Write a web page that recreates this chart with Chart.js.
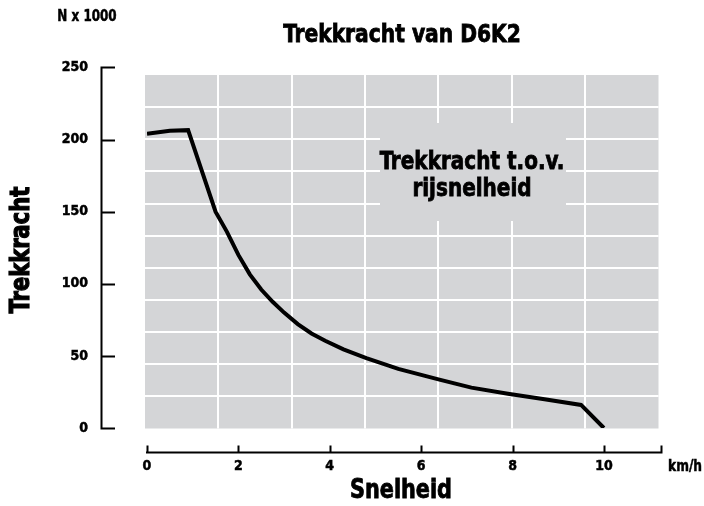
<!DOCTYPE html>
<html>
<head>
<meta charset="utf-8">
<title>Trekkracht van D6K2</title>
<script src="https://cdn.jsdelivr.net/npm/chart.js@4.4.1/dist/chart.umd.min.js"></script>
<style>
  html, body { margin: 0; padding: 0; background: #fff; }
  canvas { display: block; }
</style>
</head>
<body>
<canvas id="chart" width="704" height="506"></canvas>
<script>
// snelheid (km/h) en trekkracht (N x 1000)
const speeds = [0, 0.5, 0.9, 1.5, 1.75, 2.0, 2.25, 2.5, 2.75, 3.0, 3.3, 3.6, 3.9, 4.3, 4.8, 5.5, 6.4, 7.1, 7.9, 8.7, 9.5, 10];
const forces = [204, 206, 206.5, 150, 136, 120, 106.5, 96, 87.5, 80, 72, 65.5, 60.5, 54.5, 48.5, 41, 33.5, 28, 23.8, 20, 16, 0];
const speedTicks = [0, 2, 4, 6, 8, 10];
const forceTicks = [0, 50, 100, 150, 200, 250];

const FONT = '"Liberation Sans Narrow", "Arial Narrow", "DejaVu Sans Condensed", sans-serif';
const GRAY = '#d4d5d7';

function bold(size) {
    return 'bold ' + size + 'px ' + FONT;
}

// tekst smaller maken, de letter in het origineel is condensed en zwaar
function squeeze(ctx, text, x, y, sx, angle) {
    ctx.save();
    ctx.translate(x, y);
    if (angle) ctx.rotate(angle);
    ctx.scale(sx, 1);
    ctx.fillText(text, 0, 0);
    ctx.strokeText(text, 0, 0);
    ctx.restore();
}

// grijs vlak, witte rasterlijnen, assen en losse teksten
const decor = {
    id: 'decor',
    beforeDatasetsDraw(chart) {
        const ctx = chart.ctx;
        const left = 145, right = 658.5, top = 75, bottom = 428.5;
        ctx.save();
        ctx.fillStyle = GRAY;
        ctx.fillRect(left, top, right - left, bottom - top);

        ctx.strokeStyle = '#fff';
        ctx.lineWidth = 2;
        ctx.beginPath();
        const rowH = (bottom - top) / 11;
        for (let i = 1; i < 11; i++) {
            const yy = Math.round(top + i * rowH);
            ctx.moveTo(left, yy);
            ctx.lineTo(right, yy);
        }
        const colW = (right - left) / 7;
        for (let i = 1; i < 7; i++) {
            const xx = Math.round(left + i * colW);
            ctx.moveTo(xx, top);
            ctx.lineTo(xx, bottom);
        }
        ctx.stroke();

        // vlak achter de tekst zonder raster
        ctx.fillStyle = GRAY;
        ctx.fillRect(380, 123, 186, 98);
        ctx.restore();
    },
    afterDraw(chart) {
        const ctx = chart.ctx;
        const xs = chart.scales.x, ys = chart.scales.y;
        const area = chart.chartArea;
        ctx.save();
        ctx.strokeStyle = '#000';
        ctx.lineWidth = 2;

        // y-as
        const ax = 101.5;
        ctx.beginPath();
        ctx.moveTo(ax, ys.getPixelForValue(250));
        ctx.lineTo(ax, ys.getPixelForValue(0) + 1);
        forceTicks.forEach(v => {
            const py = Math.round(ys.getPixelForValue(v)) + 0.5;
            ctx.moveTo(ax - 1, py);
            ctx.lineTo(115, py);
        });
        ctx.stroke();

        // x-as
        const ay = 452.5;
        ctx.beginPath();
        ctx.moveTo(xs.getPixelForValue(0) - 1, ay);
        ctx.lineTo(area.right + 1, ay);
        speedTicks.concat([xs.max]).forEach(v => {
            const px = Math.round(xs.getPixelForValue(v)) + 0.5;
            ctx.moveTo(px, ay + 1);
            ctx.lineTo(px, ay - 7);
        });
        ctx.stroke();

        ctx.fillStyle = '#000';
        ctx.lineWidth = 0.8;
        ctx.textBaseline = 'middle';
        ctx.textAlign = 'center';

        ctx.font = bold(25);
        squeeze(ctx, 'Trekkracht van D6K2', 402, 35, 0.9);

        ctx.font = bold(26);
        squeeze(ctx, 'Snelheid', 401, 491, 0.89);

        ctx.font = bold(25);
        squeeze(ctx, 'Trekkracht t.o.v.', 472, 162, 0.89);
        squeeze(ctx, 'rijsnelheid', 472, 189, 0.89);

        ctx.lineWidth = 1.2;
        ctx.font = bold(26);
        squeeze(ctx, 'Trekkracht', 22, 250, 0.9, -Math.PI / 2);

        ctx.lineWidth = 0.5;
        ctx.font = bold(16);
        squeeze(ctx, 'N x 1000', 87, 17, 0.83);

        ctx.textAlign = 'left';
        squeeze(ctx, 'km/h', 668, 467, 0.85);
        ctx.restore();
    }
};

new Chart(document.getElementById('chart'), {
    type: 'line',
    data: {
        datasets: [{
            label: 'Trekkracht',
            data: speeds.map((s, i) => ({ x: s, y: forces[i] })),
            borderColor: '#000',
            borderWidth: 4,
            pointRadius: 0,
            tension: 0,
            fill: false,
        }],
    },
    options: {
        responsive: false,
        animation: false,
        layout: {
            padding: { top: 64, right: 43, left: 0, bottom: 0 },
        },
        plugins: {
            legend: { display: false },
            tooltip: { enabled: false },
        },
        scales: {
            x: {
                type: 'linear',
                min: 0,
                max: 11.25,
                afterBuildTicks: (scale) => {
                    scale.ticks = speedTicks.map(v => ({ value: v }));
                },
                afterFit: (scale) => { scale.height = 78; },
                grid: { display: false, drawTicks: false },
                border: { display: false },
                ticks: {
                    padding: 30,
                    maxRotation: 0,
                    color: '#000',
                    textStrokeColor: '#000',
                    textStrokeWidth: 0.5,
                    font: { family: FONT, size: 14, weight: 'bold' },
                },
            },
            y: {
                type: 'linear',
                min: 0,
                max: 250,
                afterBuildTicks: (scale) => {
                    scale.ticks = forceTicks.map(v => ({ value: v }));
                },
                afterFit: (scale) => { scale.width = 147; },
                grid: { display: false, drawTicks: false },
                border: { display: false },
                ticks: {
                    padding: 59,
                    color: '#000',
                    textStrokeColor: '#000',
                    textStrokeWidth: 0.5,
                    font: { family: FONT, size: 14, weight: 'bold' },
                },
            },
        },
    },
    plugins: [decor],
});
</script>
</body>
</html>
